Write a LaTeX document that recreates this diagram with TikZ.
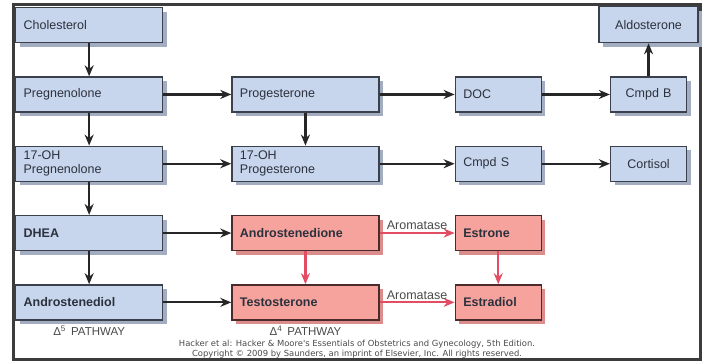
\documentclass[tikz,border=0pt]{standalone}
\usepackage{fontspec}
\setmainfont{Liberation Sans}
\newfontfamily\captionfont{DejaVu Sans}
\usetikzlibrary{
    positioning,
    shadows,
    arrows.meta,
}

\definecolor{boxblue}{HTML}{C7D6EC}
\definecolor{edgeblue}{HTML}{3A404C}
\definecolor{shadeblue}{HTML}{A2ADC1}
\definecolor{boxred}{HTML}{F5A39C}
\definecolor{edgered}{HTML}{4A2A2A}
\definecolor{shadered}{HTML}{DA8D8B}
\definecolor{linered}{HTML}{E24D63}
\definecolor{textgray}{HTML}{2C313E}
\definecolor{labelgray}{HTML}{4A4A4A}
\definecolor{framegray}{HTML}{3C3C3C}

\begin{document}
\begin{tikzpicture}[
    x=1pt, y=1pt,
    node distance= 33pt and 68pt,
    boxbase/.style={line width=1.3pt, text=textgray, align=left,
                inner xsep=8pt, inner ysep=2pt, minimum height=35pt, text width=131pt,
                font=\fontsize{12.5}{14}\selectfont},
    module/.style={boxbase, draw=edgeblue, fill=boxblue,
                drop shadow={fill=shadeblue, opacity=1, shadow xshift=4pt, shadow yshift=-4pt}},
    hormone/.style={boxbase, draw=edgered, fill=boxred, font=\fontsize{12.5}{14}\selectfont\bfseries,
                drop shadow={fill=shadered, opacity=1, shadow xshift=4pt, shadow yshift=-4pt}},
    bold/.style={font=\fontsize{12.5}{14}\selectfont\bfseries},
    narrow/.style={text width=70pt},
    small/.style={text width=60pt, align=center},
    flow/.style={-{Stealth[length=11pt, width=9pt]}, line width=2.2pt, draw=black!85},
    redflow/.style={flow, draw=linered, fill=linered},
    enzyme/.style={text=labelgray, font=\fontsize{12.5}{14}\selectfont, inner sep=2pt},
    pathlabel/.style={text=labelgray, font=\fontsize{11.5}{13}\selectfont, inner sep=0pt},
    source/.style={text=labelgray, align=center, font=\captionfont\fontsize{8.4}{10}\selectfont, inner sep=0pt},
]

\useasboundingbox (0,0) rectangle (708,-361);

% Frame
\draw[framegray, line width=3.5pt] (13.5,-4.5) rectangle (700.5,-359.5);

% Delta-5 column
\node[module, anchor=north west] at (15,-7) (Cholesterol) {Cholesterol};
\node[module] (Pregnenolone) [below=of Cholesterol] {Pregnenolone};
\node[module] (OHPreg) [below=of Pregnenolone] {17-OH\\Pregnenolone};
\node[module, bold] (DHEA) [below=of OHPreg] {DHEA};
\node[module, bold] (Androstenediol) [below=of DHEA] {Androstenediol};

% Delta-4 column
\node[module] (Progesterone) [right=of Pregnenolone] {Progesterone};
\node[module] (OHProg) [right=of OHPreg] {17-OH\\Progesterone};
\node[hormone] (Androstenedione) [right=of DHEA] {Androstenedione};
\node[hormone] (Testosterone) [right=of Androstenediol] {Testosterone};

% Third column
\node[module, narrow] (DOC) [right=75pt of Progesterone] {DOC};
\node[module, narrow] (CmpdS) [right=75pt of OHProg] {Cmpd S};
\node[hormone, narrow] (Estrone) [right=75pt of Androstenedione] {Estrone};
\node[hormone, narrow] (Estradiol) [right=75pt of Testosterone] {Estradiol};

% Fourth column
\node[module, small] (CmpdB) [right=of DOC] {Cmpd B};
\node[module, small] (Cortisol) [right=of CmpdS] {Cortisol};
\node[module, small, text width=83pt, minimum height=36pt] (Aldosterone) [above=of CmpdB] {Aldosterone};

% Pathway labels
\node[pathlabel] (DeltaFive) [below=5pt of Androstenediol] {Δ\textsuperscript{5}\hspace{0.45em}PATHWAY};
\node[pathlabel] (DeltaFour) [below=5pt of Testosterone] {Δ\textsuperscript{4}\hspace{0.45em}PATHWAY};

% Source
\node[source] at (357,-349.5) (Source) {Hacker et al: Hacker \& Moore's Essentials of Obstetrics and Gynecology, 5th Edition.\\Copyright © 2009 by Saunders, an imprint of Elsevier, Inc. All rights reserved.};

% Lines
\draw[flow] (Cholesterol) -- (Pregnenolone) {};
\draw[flow] (Pregnenolone) -- (OHPreg) {};
\draw[flow] (OHPreg) -- (DHEA) {};
\draw[flow] (DHEA) -- (Androstenediol) {};
\draw[flow] (Pregnenolone) -- (Progesterone) {};
\draw[flow] (OHPreg) -- (OHProg) {};
\draw[flow] (DHEA) -- (Androstenedione) {};
\draw[flow] (Androstenediol) -- (Testosterone) {};
\draw[flow] (Progesterone) -- (OHProg) {};
\draw[flow] (Progesterone) -- (DOC) {};
\draw[flow] (OHProg) -- (CmpdS) {};
\draw[flow] (DOC) -- (CmpdB) {};
\draw[flow] (CmpdS) -- (Cortisol) {};
\draw[flow] (CmpdB) -- (Aldosterone) {};
\draw[redflow] (Androstenedione) -- node[enzyme, above] (AromataseOne) {Aromatase} (Estrone);
\draw[redflow] (Testosterone) -- node[enzyme, above] (AromataseTwo) {Aromatase} (Estradiol);
\draw[redflow] (Androstenedione) -- (Testosterone) {};
\draw[redflow] (Estrone) -- (Estradiol) {};

\end{tikzpicture}
\end{document}
